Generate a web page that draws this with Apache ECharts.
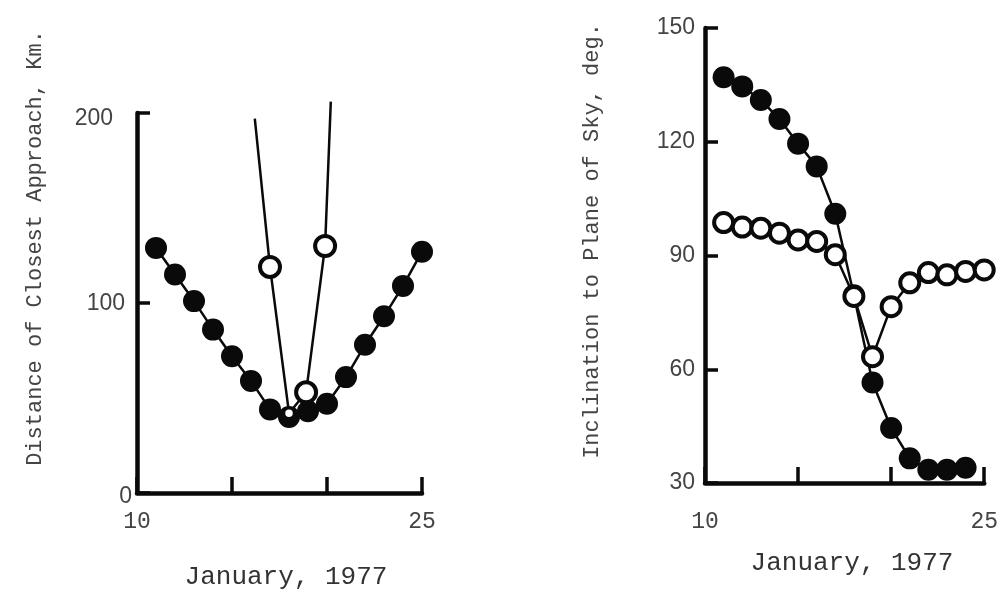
<!DOCTYPE html>
<html><head><meta charset="utf-8">
<script src="https://cdn.jsdelivr.net/npm/echarts@6.0.0/dist/echarts.min.js"></script>
<style>html,body{margin:0;padding:0;background:#fff}#c{width:1001px;height:593px}</style>
</head><body><div id="c"></div>
<script>
// ---- data ----
const xTickLabels = [10, 25];
const leftYTicks = [0, 100, 200];
const rightYTicks = [30, 60, 90, 120, 150];

const leftFilledDays = [11, 12, 13, 14, 15, 16, 17, 18, 19, 20, 21, 22, 23, 24, 25];
const leftFilledKm   = [129, 115, 101, 86, 72, 59, 44, 40, 43, 47, 61, 78, 93, 109, 127];
const leftOpenDays   = [16.2, 17, 18, 18.9, 19.9, 20.2];
const leftOpenKm     = [197, 119, 42, 53, 130, 206];

const rightFilledDays = [11, 12, 13, 14, 15, 16, 17, 18, 19, 20, 21, 22, 23, 24];
const rightFilledDeg  = [137, 134.6, 131, 126, 119.5, 113.5, 101, 79.5, 56.5, 44.5, 36.5, 33.5, 33.5, 34];
const rightOpenDays   = [11, 12, 13, 14, 15, 16, 17, 18, 19, 20, 21, 22, 23, 24, 25];
const rightOpenDeg    = [98.7, 97.5, 97.2, 95.9, 94.1, 93.7, 90.2, 79.2, 63.3, 76.5, 82.8, 85.5, 84.9, 85.8, 86.2];

const xTitle = 'January, 1977';
const leftYTitle = 'Distance of Closest Approach, Km.';
const rightYTitle = 'Inclination to Plane of Sky, deg.';

// ---- chart ----
const BLACK = '#0a0a0a';
const TEXT = '#444';
const MONO = '"Liberation Mono", "DejaVu Sans Mono", monospace';
const SANS = '"Liberation Sans", Arial, sans-serif';

function xAxis(gi, margin) {
  return {
    type: 'value', gridIndex: gi, min: 10, max: 25, interval: 5,
    axisLine: { lineStyle: { color: BLACK, width: 4.5, cap: 'round' } },
    axisTick: { inside: true, length: 16, lineStyle: { color: BLACK, width: 3.5 } },
    splitLine: { show: false },
    axisLabel: {
      margin: margin, color: TEXT, fontFamily: MONO, fontSize: 23,
      formatter: v => xTickLabels.includes(v) ? String(v) : ''
    }
  };
}

const pts = (xs, ys) => xs.map((x, i) => [x, ys[i]]);

const chart = echarts.init(document.getElementById('c'), null, { renderer: 'canvas' });
chart.setOption({
  backgroundColor: '#ffffff',
  animation: false,
  grid: [
    { left: 137, top: 113, width: 285, height: 380 },
    { left: 705, top: 28, width: 282, height: 455 }
  ],
  xAxis: [xAxis(0, 17), xAxis(1, 27)],
  yAxis: [
    {
      type: 'value', gridIndex: 0, min: 0, max: 200, interval: 100,
      axisLine: { show: true, lineStyle: { color: BLACK, width: 4.5 } },
      axisTick: { show: true, inside: true, length: 13, lineStyle: { color: BLACK, width: 3.5 } },
      splitLine: { show: false },
      axisLabel: {
        margin: 5, color: TEXT, fontFamily: SANS, fontSize: 23,
        formatter: v => leftYTicks.includes(v) ? '{l' + v + '|' + v + '}' : '',
        rich: {
          l200: { padding: [12, 19, 0, 0], fontFamily: SANS, fontSize: 23, color: TEXT },
          l100: { padding: [2, 7, 0, 0], fontFamily: SANS, fontSize: 23, color: TEXT },
          l0: { padding: [8, 0, 0, 0], fontFamily: SANS, fontSize: 23, color: TEXT }
        }
      }
    },
    {
      type: 'value', gridIndex: 1, min: 30, max: 150, interval: 30,
      axisLine: { show: true, lineStyle: { color: BLACK, width: 4.5 } },
      axisTick: { show: true, inside: true, length: 13, lineStyle: { color: BLACK, width: 3.5 } },
      splitLine: { show: false },
      axisLabel: {
        margin: 10, color: TEXT, fontFamily: SANS, fontSize: 23,
        formatter: v => rightYTicks.includes(v) ? String(v) : ''
      }
    }
  ],
  series: [
    {
      type: 'line', xAxisIndex: 0, yAxisIndex: 0, data: pts(leftFilledDays, leftFilledKm),
      symbol: 'circle', symbolSize: 22, z: 2,
      lineStyle: { color: BLACK, width: 2.5 }, itemStyle: { color: BLACK }
    },
    {
      type: 'line', xAxisIndex: 0, yAxisIndex: 0, clip: false, z: 3,
      data: pts(leftOpenDays, leftOpenKm).map((p, i, a) => {
        if (i === 0 || i === a.length - 1) return { value: p, symbol: 'none' };
        if (i === 2) return { value: p, symbolSize: 10, itemStyle: { borderWidth: 2.5 } };
        return { value: p };
      }),
      symbol: 'circle', symbolSize: 20,
      lineStyle: { color: BLACK, width: 2.5 },
      itemStyle: { color: '#fff', borderColor: BLACK, borderWidth: 4 }
    },
    {
      type: 'line', xAxisIndex: 1, yAxisIndex: 1, data: pts(rightFilledDays, rightFilledDeg),
      symbol: 'circle', symbolSize: 22, z: 2,
      lineStyle: { color: BLACK, width: 2.5 }, itemStyle: { color: BLACK }
    },
    {
      type: 'line', xAxisIndex: 1, yAxisIndex: 1, data: pts(rightOpenDays, rightOpenDeg), z: 3,
      symbol: 'circle', symbolSize: 19,
      lineStyle: { color: BLACK, width: 2.5 },
      itemStyle: { color: '#fff', borderColor: BLACK, borderWidth: 4 }
    }
  ],
  graphic: [
    { type: 'text', x: 286, y: 577, style: { text: xTitle, font: '26px ' + MONO, fill: '#333', align: 'center', verticalAlign: 'middle' } },
    { type: 'text', x: 852, y: 563, style: { text: xTitle, font: '26px ' + MONO, fill: '#333', align: 'center', verticalAlign: 'middle' } },
    { type: 'text', x: 35, y: 248, rotation: Math.PI / 2, style: { text: leftYTitle, font: '22px ' + MONO, fill: TEXT, align: 'center', verticalAlign: 'middle' } },
    { type: 'text', x: 592, y: 241, rotation: Math.PI / 2, style: { text: rightYTitle, font: '22px ' + MONO, fill: TEXT, align: 'center', verticalAlign: 'middle' } }
  ]
});
</script>
</body></html>
